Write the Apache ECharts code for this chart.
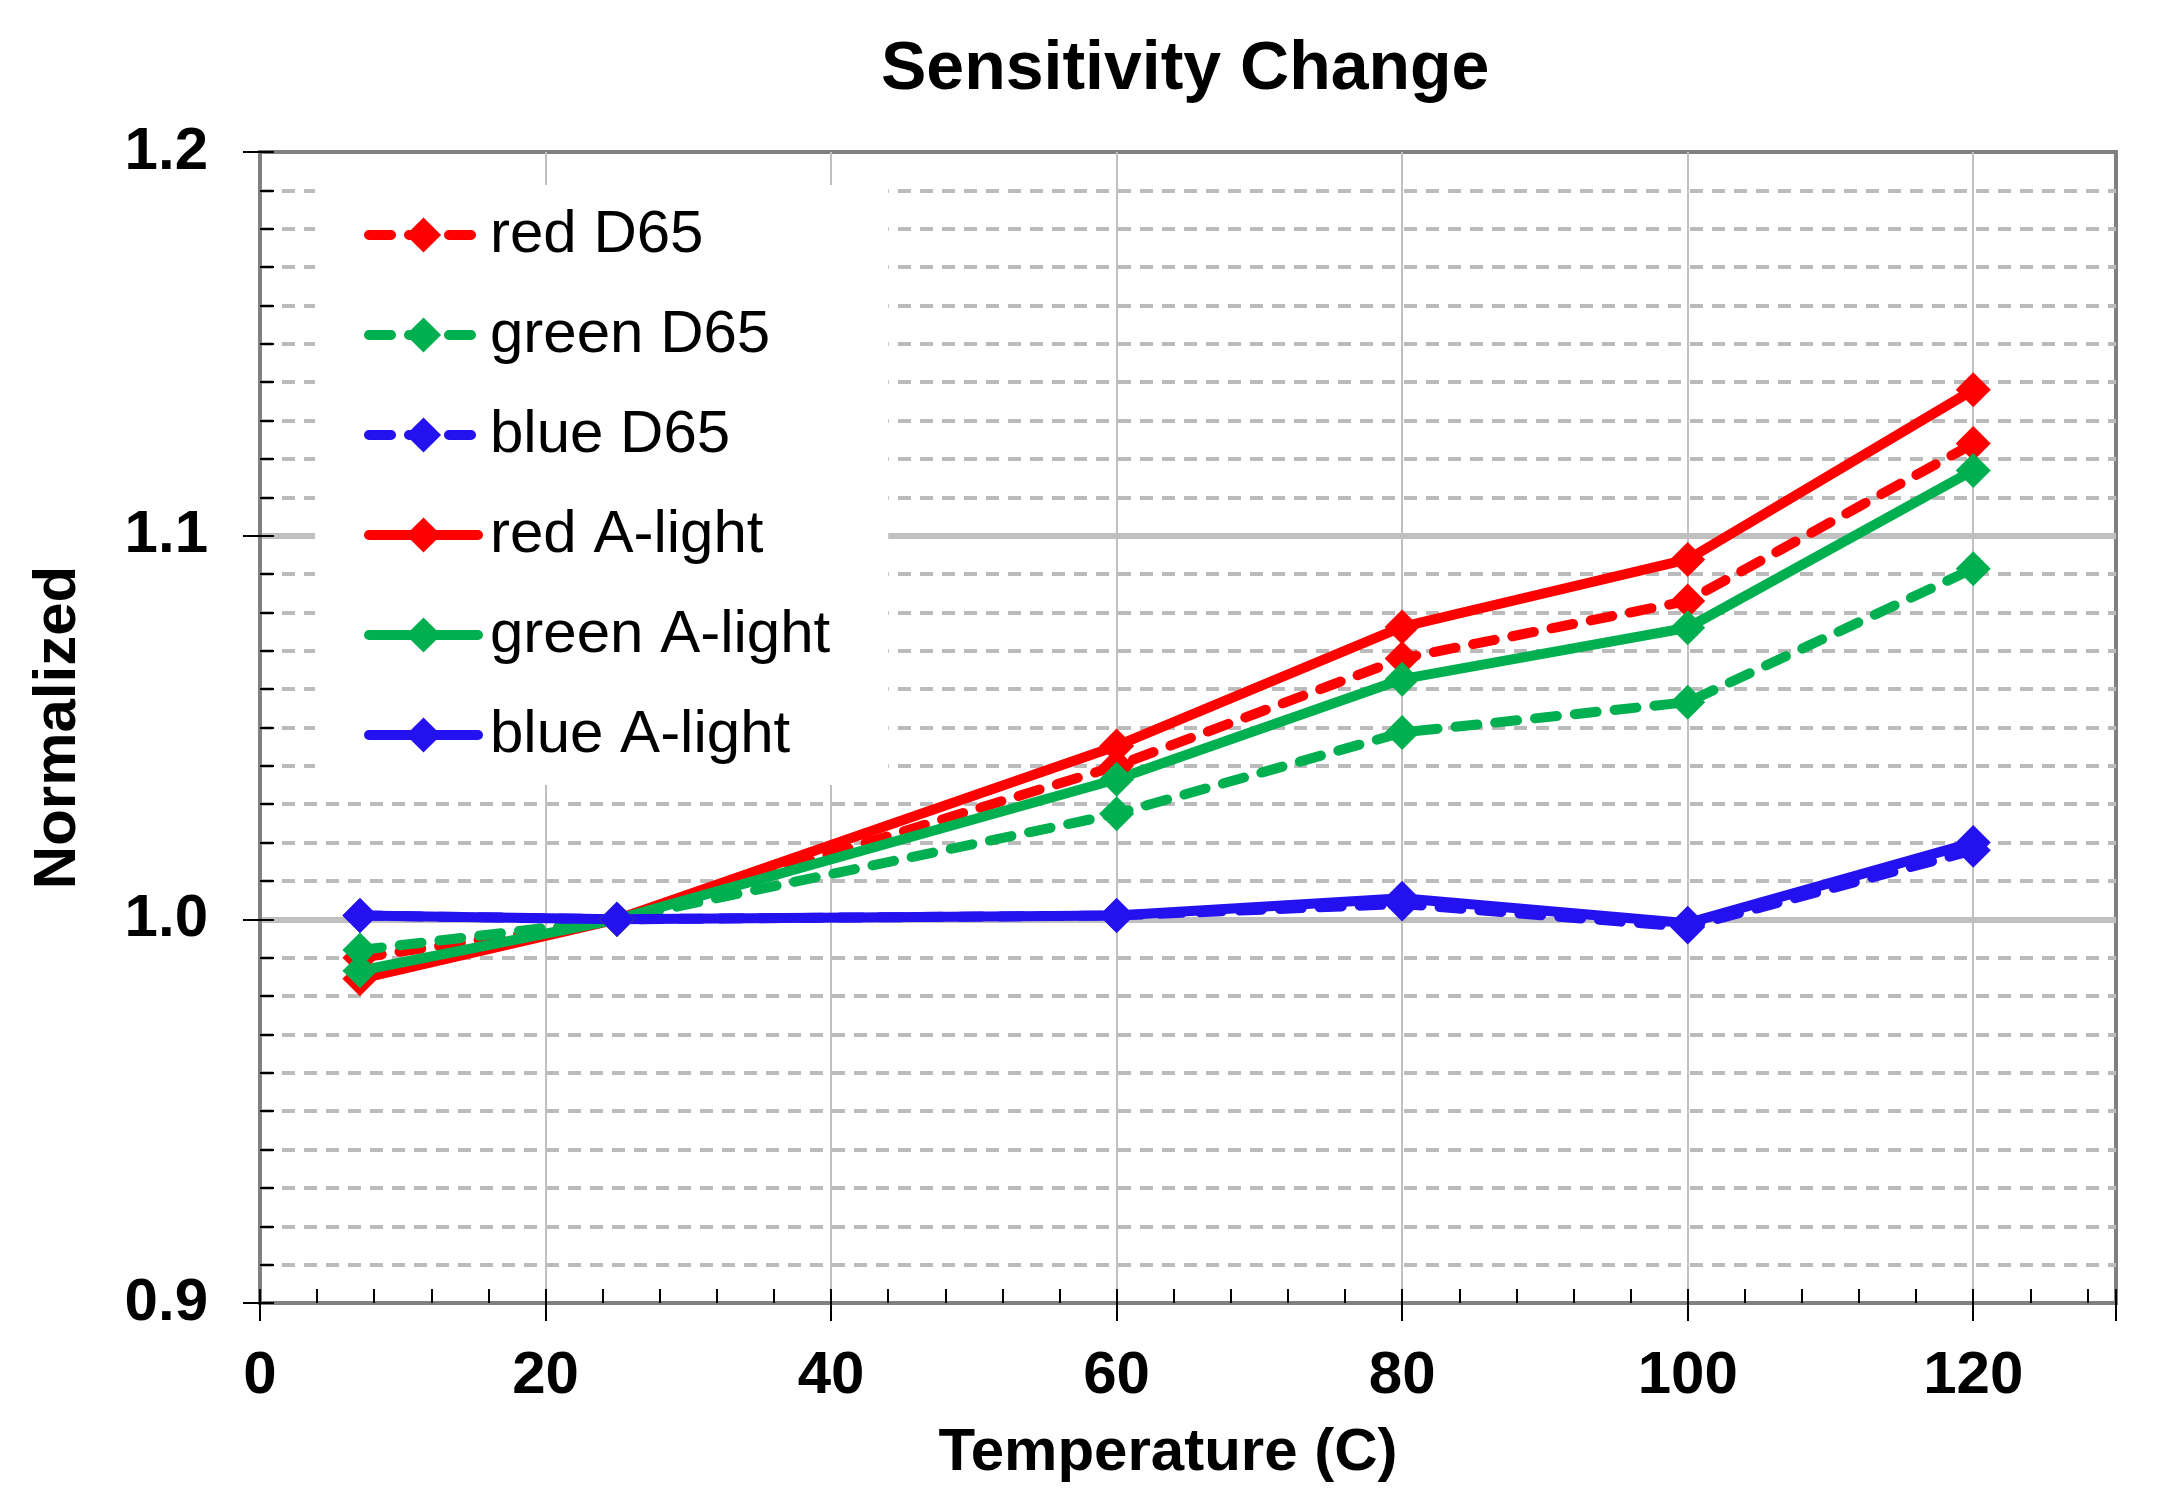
<!DOCTYPE html>
<html>
<head>
<meta charset="utf-8">
<script src="https://cdn.jsdelivr.net/npm/echarts@6/dist/echarts.min.js"></script>
<style>
html,body{margin:0;padding:0;background:#fff;}
#chart{width:2169px;height:1506px;}
</style>
</head>
<body>
<div id="chart"></div>
<script>
const temperatures = [7, 25, 60, 80, 100, 120];
const redD65 = [0.990, 1.000, 1.040, 1.068, 1.083, 1.124];
const greenD65 = [0.992, 1.000, 1.0275, 1.0487, 1.0566, 1.0914];
const blueD65 = [1.001, 1.000, 1.001, 1.004, 0.998, 1.018];
const redA = [0.9845, 1.000, 1.0452, 1.0762, 1.0938, 1.138];
const greenA = [0.9866, 1.000, 1.0365, 1.0626, 1.076, 1.117];
const blueA = [1.001, 1.000, 1.001, 1.0055, 0.999, 1.020];
const seriesNames = ['red D65', 'green D65', 'blue D65', 'red A-light', 'green A-light', 'blue A-light'];
const seriesValues = [redD65, greenD65, blueD65, redA, greenA, blueA];
const seriesColors = ['#FF0000', '#00B050', '#2411F0', '#FF0000', '#00B050', '#2411F0'];
const seriesDashed = [true, true, true, false, false, false];

const FONT = "'Liberation Sans', Arial, sans-serif";
const chart = echarts.init(document.getElementById('chart'));

const series = seriesNames.map((name, i) => ({
  name: name,
  type: 'line',
  xAxisIndex: 0,
  yAxisIndex: 0,
  data: temperatures.map((t, j) => [t, seriesValues[i][j]]),
  symbol: 'diamond',
  symbolSize: 35,
  showSymbol: true,
  animation: false,
  lineStyle: {
    color: seriesColors[i],
    width: 10,
    type: seriesDashed[i] ? [22, 18] : 'solid',
    cap: 'round'
  },
  itemStyle: { color: seriesColors[i] }
}));

chart.setOption({
  animation: false,
  backgroundColor: '#ffffff',
  title: {
    text: 'Sensitivity Change',
    left: 876,
    top: 31,
    textStyle: { fontFamily: FONT, fontSize: 68, fontWeight: 'bold', color: '#000' }
  },
  legend: {
    orient: 'vertical',
    left: 315,
    top: 185,
    backgroundColor: '#ffffff',
    padding: [20, 58, 20, 49],
    itemWidth: 109,
    itemHeight: 44,
    itemGap: 40,
    data: seriesNames,
    lineStyle: { width: 10, cap: 'round' },
    textStyle: { fontFamily: FONT, fontSize: 60, lineHeight: 60, color: '#000', padding: [0, 0, 0, 7] }
  },
  grid: {
    left: 260, right: 53, top: 152, bottom: 203,
    show: true, borderColor: '#808080', borderWidth: 4, backgroundColor: 'transparent'
  },
  xAxis: [
    {
      type: 'value', min: 0, max: 130, interval: 20,
      name: 'Temperature (C)', nameLocation: 'middle', nameGap: 120,
      nameTextStyle: { fontFamily: FONT, fontSize: 60, fontWeight: 'bold', color: '#000', padding: [0, 40, 0, 0] },
      axisLine: { show: true, lineStyle: { color: '#808080', width: 4 } },
      axisTick: { show: true, inside: false, length: 18, lineStyle: { color: '#000', width: 2 } },
      axisLabel: {
        margin: 43, fontFamily: FONT, fontSize: 60, fontWeight: 'bold', color: '#000',
        formatter: v => (v % 20 === 0 ? String(v) : '')
      },
      splitLine: { show: true, showMinLine: false, showMaxLine: false, lineStyle: { color: '#C0C0C0', width: 2 } }
    },
    {
      type: 'value', min: 0, max: 130, interval: 4, position: 'bottom',
      axisLine: { show: false },
      axisTick: { show: true, inside: true, length: 14, lineStyle: { color: '#000', width: 2 } },
      axisLabel: { show: false },
      splitLine: { show: false }
    }
  ],
  yAxis: [
    {
      type: 'value', min: 0.9, max: 1.2, interval: 0.1,
      name: 'Normalized', nameLocation: 'middle', nameGap: 172, nameRotate: 90,
      nameTextStyle: { fontFamily: FONT, fontSize: 60, fontWeight: 'bold', color: '#000' },
      axisLine: { show: true, lineStyle: { color: '#808080', width: 4 } },
      axisTick: { show: true, inside: false, length: 17, lineStyle: { color: '#000', width: 2 } },
      axisLabel: {
        margin: 52, fontFamily: FONT, fontSize: 60, fontWeight: 'bold', color: '#000',
        formatter: v => v.toFixed(1)
      },
      splitLine: { show: true, showMinLine: false, showMaxLine: false, lineStyle: { color: '#C0C0C0', width: 6 } },
      minorTick: { show: false, splitNumber: 10 },
      minorSplitLine: { show: true, lineStyle: { color: '#BBBBBB', width: 4, type: [13, 9] } }
    },
    {
      type: 'value', min: 0.9, max: 1.2, interval: 0.01, position: 'left',
      axisLine: { show: false },
      axisTick: { show: true, inside: true, length: 14, lineStyle: { color: '#000', width: 2 } },
      axisLabel: { show: false },
      splitLine: { show: false }
    }
  ],
  series: series
});
</script>
</body>
</html>
